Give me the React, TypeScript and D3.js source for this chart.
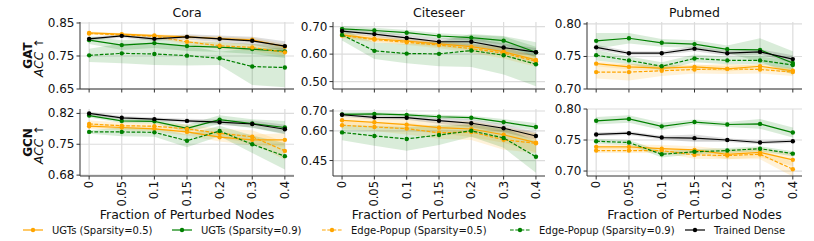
import React from 'react';
import * as d3 from 'd3';

const xTickLabels = ['0', '0.05', '0.1', '0.15', '0.2', '0.3', '0.4'];
const datasets = ['Cora', 'Citeseer', 'Pubmed'];
const models = ['GAT', 'GCN'];
const seriesNames = [
  'UGTs (Sparsity=0.5)',
  'UGTs (Sparsity=0.9)',
  'Edge-Popup (Sparsity=0.5)',
  'Edge-Popup (Sparsity=0.9)',
  'Trained Dense',
];
const seriesColors = ['#ffa500', '#008000', '#ffa500', '#008000', '#000000'];
const seriesDashed = [false, false, true, true, false];

// rows: ugt 0.5, ugt 0.9, edge-popup 0.5, edge-popup 0.9, dense
const coraGatMean = [
  [0.82, 0.816, 0.812, 0.808, 0.803, 0.799, 0.778],
  [0.798, 0.783, 0.789, 0.78, 0.777, 0.771, 0.764],
  [0.818, 0.814, 0.81, 0.793, 0.781, 0.776, 0.761],
  [0.752, 0.758, 0.756, 0.751, 0.743, 0.718, 0.715],
  [0.802, 0.811, 0.802, 0.808, 0.802, 0.796, 0.78],
];
const coraGatStd = [
  [0.004, 0.004, 0.004, 0.005, 0.005, 0.006, 0.008],
  [0.012, 0.015, 0.015, 0.015, 0.015, 0.015, 0.02],
  [0.004, 0.004, 0.005, 0.008, 0.01, 0.01, 0.012],
  [0.02, 0.03, 0.033, 0.03, 0.02, 0.056, 0.06],
  [0.005, 0.006, 0.006, 0.008, 0.01, 0.012, 0.015],
];
const citeseerGatMean = [
  [0.67, 0.656, 0.647, 0.637, 0.627, 0.609, 0.579],
  [0.692, 0.686, 0.678, 0.666, 0.66, 0.649, 0.607],
  [0.668, 0.653, 0.643, 0.633, 0.62, 0.604, 0.574],
  [0.67, 0.612, 0.602, 0.601, 0.613, 0.596, 0.563],
  [0.684, 0.673, 0.659, 0.645, 0.645, 0.624, 0.607],
];
const citeseerGatStd = [
  [0.01, 0.01, 0.01, 0.01, 0.012, 0.015, 0.015],
  [0.01, 0.01, 0.01, 0.01, 0.01, 0.015, 0.02],
  [0.01, 0.01, 0.01, 0.012, 0.015, 0.02, 0.02],
  [0.02, 0.03, 0.035, 0.045, 0.06, 0.07, 0.08],
  [0.008, 0.01, 0.01, 0.012, 0.015, 0.015, 0.015],
];
const pubmedGatMean = [
  [0.739, 0.734, 0.732, 0.734, 0.731, 0.735, 0.728],
  [0.774, 0.778, 0.771, 0.769, 0.761, 0.76, 0.74],
  [0.726, 0.726, 0.728, 0.73, 0.731, 0.73, 0.726],
  [0.752, 0.744, 0.735, 0.747, 0.744, 0.744, 0.737],
  [0.764, 0.755, 0.755, 0.762, 0.755, 0.757, 0.746],
];
const pubmedGatStd = [
  [0.004, 0.004, 0.004, 0.004, 0.004, 0.004, 0.004],
  [0.012, 0.008, 0.006, 0.006, 0.006, 0.018, 0.018],
  [0.01, 0.013, 0.008, 0.006, 0.008, 0.006, 0.006],
  [0.008, 0.006, 0.006, 0.006, 0.006, 0.006, 0.006],
  [0.004, 0.003, 0.003, 0.004, 0.004, 0.004, 0.006],
];
const coraGcnMean = [
  [0.791, 0.788, 0.785, 0.778, 0.766, 0.76, 0.76],
  [0.815, 0.803, 0.802, 0.786, 0.806, 0.797, 0.788],
  [0.796, 0.792, 0.791, 0.785, 0.775, 0.767, 0.735],
  [0.778, 0.778, 0.777, 0.758, 0.78, 0.75, 0.723],
  [0.82, 0.81, 0.807, 0.803, 0.8, 0.796, 0.784],
];
const coraGcnStd = [
  [0.006, 0.006, 0.006, 0.008, 0.01, 0.012, 0.015],
  [0.004, 0.005, 0.005, 0.008, 0.01, 0.01, 0.015],
  [0.008, 0.008, 0.008, 0.01, 0.01, 0.015, 0.02],
  [0.004, 0.01, 0.01, 0.015, 0.012, 0.02, 0.03],
  [0.004, 0.004, 0.004, 0.005, 0.006, 0.008, 0.01],
];
const citeseerGcnMean = [
  [0.653, 0.643, 0.631, 0.616, 0.609, 0.58, 0.54],
  [0.683, 0.685, 0.68, 0.671, 0.666, 0.644, 0.619],
  [0.628, 0.619, 0.611, 0.59, 0.594, 0.555, 0.537],
  [0.592, 0.574, 0.559, 0.579, 0.6, 0.564, 0.469],
  [0.681, 0.668, 0.666, 0.651, 0.638, 0.613, 0.574],
];
const citeseerGcnStd = [
  [0.02, 0.02, 0.03, 0.03, 0.04, 0.04, 0.05],
  [0.01, 0.01, 0.01, 0.01, 0.01, 0.015, 0.02],
  [0.02, 0.02, 0.03, 0.03, 0.04, 0.05, 0.05],
  [0.04, 0.05, 0.06, 0.05, 0.03, 0.05, 0.08],
  [0.01, 0.01, 0.01, 0.015, 0.02, 0.02, 0.02],
];
const pubmedGcnMean = [
  [0.739, 0.739, 0.736, 0.734, 0.727, 0.73, 0.718],
  [0.781, 0.784, 0.772, 0.779, 0.775, 0.776, 0.762],
  [0.733, 0.733, 0.733, 0.726, 0.725, 0.727, 0.703],
  [0.748, 0.746, 0.727, 0.731, 0.733, 0.736, 0.728],
  [0.759, 0.761, 0.754, 0.753, 0.75, 0.746, 0.748],
];
const pubmedGcnStd = [
  [0.004, 0.004, 0.006, 0.006, 0.008, 0.008, 0.01],
  [0.006, 0.006, 0.006, 0.004, 0.004, 0.008, 0.008],
  [0.004, 0.004, 0.004, 0.006, 0.006, 0.008, 0.012],
  [0.004, 0.004, 0.005, 0.004, 0.004, 0.004, 0.004],
  [0.003, 0.003, 0.003, 0.006, 0.003, 0.003, 0.003],
];

const yDomains = [
  [[0.65, 0.853], [0.473, 0.717], [0.7, 0.803]],
  [[0.678, 0.83], [0.372, 0.71], [0.692, 0.8]],
];
const yTicks = [
  [[0.65, 0.75, 0.85], [0.5, 0.6, 0.7], [0.7, 0.75, 0.8]],
  [[0.68, 0.75, 0.82], [0.45, 0.6, 0.7], [0.7, 0.75, 0.8]],
];

const means = [
  [coraGatMean, citeseerGatMean, pubmedGatMean],
  [coraGcnMean, citeseerGcnMean, pubmedGcnMean],
];
const stds = [
  [coraGatStd, citeseerGatStd, pubmedGatStd],
  [coraGcnStd, citeseerGcnStd, pubmedGcnStd],
];

const W = 814;
const H = 241;
const colLeft = [80, 333, 587];
const colWidth = [214, 212, 215];
const rowTop = [22, 109];
const panelH = 67;
const font = 'DejaVu Sans, sans-serif';

function Panel({ row, col }: { row: number; col: number }) {
  const left = colLeft[col];
  const w = colWidth[col];
  const top = rowTop[row];
  const x = d3
    .scalePoint<number>()
    .domain(d3.range(xTickLabels.length))
    .range([left, left + w])
    .padding(0.28);
  const y = d3.scaleLinear().domain(yDomains[row][col]).range([top + panelH, top]);
  const m = means[row][col];
  const s = stds[row][col];
  const line = d3
    .line<number>()
    .x((_, i) => x(i) as number)
    .y((d) => y(d));
  const clipId = `clip-${row}-${col}`;

  return (
    <g>
      <defs>
        <clipPath id={clipId}>
          <rect x={left} y={top} width={w} height={panelH} />
        </clipPath>
      </defs>
      {/* grid */}
      {d3.range(xTickLabels.length).map((i) => (
        <line key={'gx' + i} x1={x(i)} x2={x(i)} y1={top} y2={top + panelH} stroke="#dcdcdc" strokeWidth={1.2} />
      ))}
      {yTicks[row][col].map((t) => (
        <line key={'gy' + t} x1={left} x2={left + w} y1={y(t)} y2={y(t)} stroke="#dcdcdc" strokeWidth={1.2} />
      ))}
      <g clipPath={`url(#${clipId})`}>
        {m.map((vals, k) => {
          const area = d3
            .area<number>()
            .x((_, i) => x(i) as number)
            .y0((d, i) => y(d - s[k][i]))
            .y1((d, i) => y(d + s[k][i]));
          return (
            <path key={'a' + k} d={area(vals) || ''} fill={seriesColors[k]} fillOpacity={k === 4 ? 0.13 : 0.15} stroke="none" />
          );
        })}
        {m.map((vals, k) => (
          <g key={'l' + k}>
            <path
              d={line(vals) || ''}
              fill="none"
              stroke={seriesColors[k]}
              strokeWidth={1.2}
              strokeDasharray={seriesDashed[k] ? '3.7,1.6' : undefined}
            />
            {vals.map((v, i) => (
              <circle key={i} cx={x(i)} cy={y(v)} r={2.2} fill={seriesColors[k]} />
            ))}
          </g>
        ))}
      </g>
      {/* spines */}
      <line x1={left} x2={left} y1={top} y2={top + panelH} stroke="#333" strokeWidth={1} />
      <line x1={left} x2={left + w} y1={top + panelH} y2={top + panelH} stroke="#333" strokeWidth={1} />
      {yTicks[row][col].map((t) => (
        <g key={'yt' + t}>
          <line x1={left - 3.5} x2={left} y1={y(t)} y2={y(t)} stroke="#333" strokeWidth={1} />
          <text x={left - 5.5} y={y(t)} dominantBaseline="central" textAnchor="end" fontSize={12} fontFamily={font} fill="#111">
            {t.toFixed(2)}
          </text>
        </g>
      ))}
      {d3.range(xTickLabels.length).map((i) => (
        <g key={'xt' + i}>
          <line x1={x(i)} x2={x(i)} y1={top + panelH} y2={top + panelH + 3.5} stroke="#333" strokeWidth={1} />
          {row === 1 && (
            <text
              transform={`translate(${x(i)},${top + panelH + 5}) rotate(-90)`}
              textAnchor="end"
              dominantBaseline="central"
              fontSize={11.5}
              fontFamily={font}
              fill="#111"
            >
              {xTickLabels[i]}
            </text>
          )}
        </g>
      ))}
      {row === 0 && (
        <text x={left + w / 2} y={top - 5} textAnchor="middle" fontSize={12.5} fontFamily={font} fill="#111">
          {datasets[col]}
        </text>
      )}
      {row === 1 && (
        <text x={left + w / 2} y={top + panelH + 43} textAnchor="middle" fontSize={12.5} fontFamily={font} fill="#111">
          Fraction of Perturbed Nodes
        </text>
      )}
    </g>
  );
}

const legendLineX = [23, 172, 322, 510, 685];

export default function App() {
  return (
    <div style={{ position: 'fixed', left: 0, top: 0 }}>
      <svg width={W} height={H} style={{ display: 'block', background: '#fff' }}>
        {models.map((model, r) => {
          const cy = rowTop[r] + panelH / 2;
          return (
            <g key={model}>
              <text
                transform={`translate(28,${cy}) rotate(-90)`}
                textAnchor="middle"
                dominantBaseline="central"
                fontSize={12}
                fontWeight="bold"
                fontFamily={font}
                fill="#111"
              >
                {model}
              </text>
              <text
                transform={`translate(38.5,${cy + 2}) rotate(-90)`}
                textAnchor="middle"
                dominantBaseline="central"
                fontSize={12}
                fontFamily={font}
                fill="#111"
              >
                <tspan fontStyle="italic">ACC</tspan>
                <tspan> ↑</tspan>
              </text>
            </g>
          );
        })}
        {models.map((_, r) => datasets.map((__, c) => <Panel key={`${r}-${c}`} row={r} col={c} />))}
        {seriesNames.map((name, k) => {
          const lx = legendLineX[k];
          const ly = 230;
          return (
            <g key={name}>
              <line
                x1={lx}
                x2={lx + 20}
                y1={ly}
                y2={ly}
                stroke={seriesColors[k]}
                strokeWidth={1.2}
                strokeDasharray={seriesDashed[k] ? '3.7,1.6' : undefined}
              />
              <circle cx={lx + 10} cy={ly} r={2.2} fill={seriesColors[k]} />
              <text x={lx + 29} y={ly} dominantBaseline="central" fontSize={10} fontFamily={font} fill="#111">
                {name}
              </text>
            </g>
          );
        })}
      </svg>
    </div>
  );
}
